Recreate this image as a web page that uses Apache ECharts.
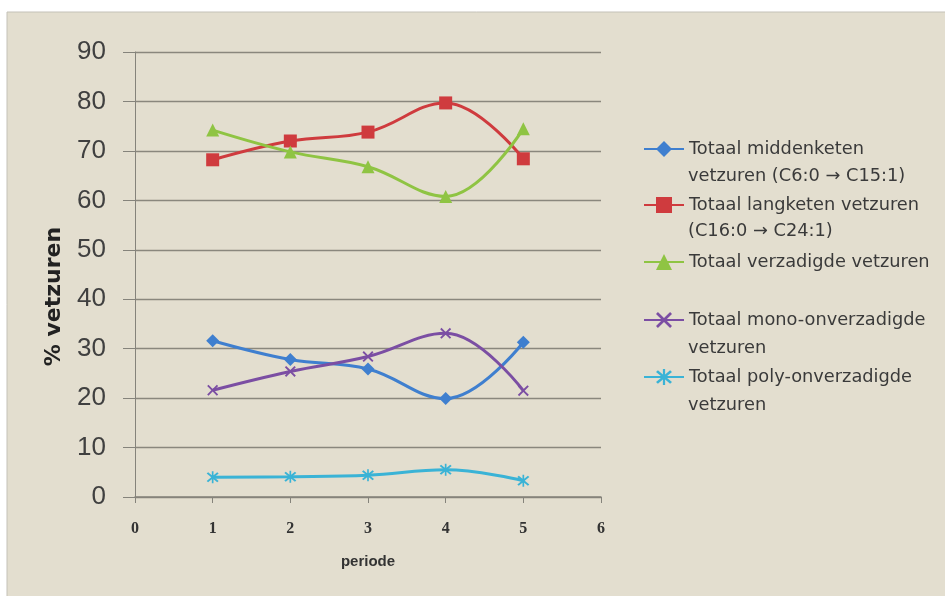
<!DOCTYPE html>
<html><head><meta charset="utf-8">
<script src="https://cdn.jsdelivr.net/npm/echarts@6/dist/echarts.min.js"></script>
<style>html,body{margin:0;padding:0;background:#fff}#c{width:945px;height:596px}</style>
</head><body><div id="c"></div>
<script>
const periods = [1, 2, 3, 4, 5];
const seriesNames = [
  'Totaal middenketen vetzuren (C6:0 → C15:1)',
  'Totaal langketen vetzuren (C16:0 → C24:1)',
  'Totaal verzadigde vetzuren',
  'Totaal mono-onverzadigde vetzuren',
  'Totaal poly-onverzadigde vetzuren'
];
const legendLine1 = ['Totaal middenketen', 'Totaal langketen vetzuren', 'Totaal verzadigde vetzuren', 'Totaal mono-onverzadigde', 'Totaal poly-onverzadigde'];
const legendLine2 = ['vetzuren (C6:0 → C15:1)', '(C16:0 → C24:1)', '', 'vetzuren', 'vetzuren'];
const middenketen = [31.6, 27.8, 25.9, 19.9, 31.3];
const langketen = [68.2, 72.0, 73.8, 79.7, 68.4];
const verzadigde = [74.2, 69.8, 66.8, 60.8, 74.5];
const mono = [21.6, 25.4, 28.4, 33.1, 21.5];
const poly = [4.0, 4.1, 4.4, 5.5, 3.3];
const yTicks = [0, 10, 20, 30, 40, 50, 60, 70, 80, 90];
const xTicks = [0, 1, 2, 3, 4, 5, 6];

const values = [middenketen, langketen, verzadigde, mono, poly];
const colors = ['#3f7fcf', '#cf3b3e', '#8fc443', '#7b4ea3', '#3ab3d6'];
const xPath = 'path://M0,1.2 L1.2,0 L5,3.8 L8.8,0 L10,1.2 L6.2,5 L10,8.8 L8.8,10 L5,6.2 L1.2,10 L0,8.8 L3.8,5 Z';
const starPath = 'path://M0,1.2 L1.2,0 L5,3.8 L8.8,0 L10,1.2 L6.2,5 L10,8.8 L8.8,10 L5,6.2 L1.2,10 L0,8.8 L3.8,5 Z M4.3,-1 L5.7,-1 L5.7,11 L4.3,11 Z';
const symbols = ['diamond', 'rect', 'triangle', xPath, starPath];
const symSizes = [13, 13, 13, 11, 12];

const FONT = 'DejaVu Sans';
const legendY1 = [149, 205, 262, 320, 377];
const legendY2 = [176, 231, null, 348, 405];

const series = seriesNames.map((n, i) => ({
  name: n,
  type: 'line',
  smooth: 0.4,
  data: periods.map((p, j) => [p, values[i][j]]),
  symbol: symbols[i],
  symbolSize: symSizes[i],
  showAllSymbol: true,
  lineStyle: { color: colors[i], width: 3 },
  itemStyle: { color: colors[i] },
  z: 3
}));

const legends = seriesNames.map((n, i) => ({
  data: [n],
  left: 643,
  top: legendY1[i] - 10,
  orient: 'vertical',
  padding: 0,
  itemWidth: 40,
  itemHeight: 20,
  selectedMode: false,
  formatter: () => legendLine1[i],
  textStyle: { fontFamily: FONT, fontSize: 17.8, color: '#3a3a3a', lineHeight: 20 }
}));

const graphics = [
  { type: 'rect', z: -10, shape: { x: 7, y: 12, width: 945, height: 600 },
    style: { fill: '#e3decf', stroke: '#c4c1b8', lineWidth: 1 } }
];
legendLine2.forEach((t, i) => {
  if (t) graphics.push({ type: 'text', x: 688, y: legendY2[i],
    style: { text: t, fontFamily: FONT, fontSize: 17.8, fill: '#3a3a3a', verticalAlign: 'middle' } });
});

const chart = echarts.init(document.getElementById('c'), null, { renderer: 'canvas' });
chart.setOption({
  animation: false,
  backgroundColor: '#ffffff',
  graphic: graphics,
  legend: legends,
  grid: { left: 135, right: 344, top: 52, bottom: 99, containLabel: false },
  xAxis: {
    type: 'value', min: xTicks[0], max: xTicks[xTicks.length - 1], interval: 1,
    name: 'periode', nameLocation: 'middle', nameGap: 57,
    nameTextStyle: { fontFamily: 'Liberation Sans', fontWeight: 'bold', fontSize: 15, color: '#333' },
    axisLine: { show: true, lineStyle: { color: '#85837b', width: 1.5 } },
    axisTick: { show: true, inside: false, length: 6, lineStyle: { color: '#85837b' } },
    axisLabel: { margin: 24, fontFamily: 'Liberation Serif', fontWeight: 'bold', fontSize: 16, color: '#333' },
    splitLine: { show: false }
  },
  yAxis: {
    type: 'value', min: yTicks[0], max: yTicks[yTicks.length - 1], interval: 10,
    name: '% vetzuren', nameLocation: 'middle', nameGap: 70,
    nameTextStyle: { fontFamily: FONT, fontWeight: 'bold', fontSize: 22, color: '#222', padding: [0, 44, 0, 0] },
    axisLine: { show: true, lineStyle: { color: '#85837b', width: 1 } },
    axisTick: { show: true, inside: false, length: 12, lineStyle: { color: '#85837b' } },
    axisLabel: { margin: 29, fontFamily: 'Liberation Sans', fontSize: 26, color: '#404040' },
    splitLine: { show: true, lineStyle: { color: '#8a877d', width: 1.3 } }
  },
  series: series
});
</script></body></html>
